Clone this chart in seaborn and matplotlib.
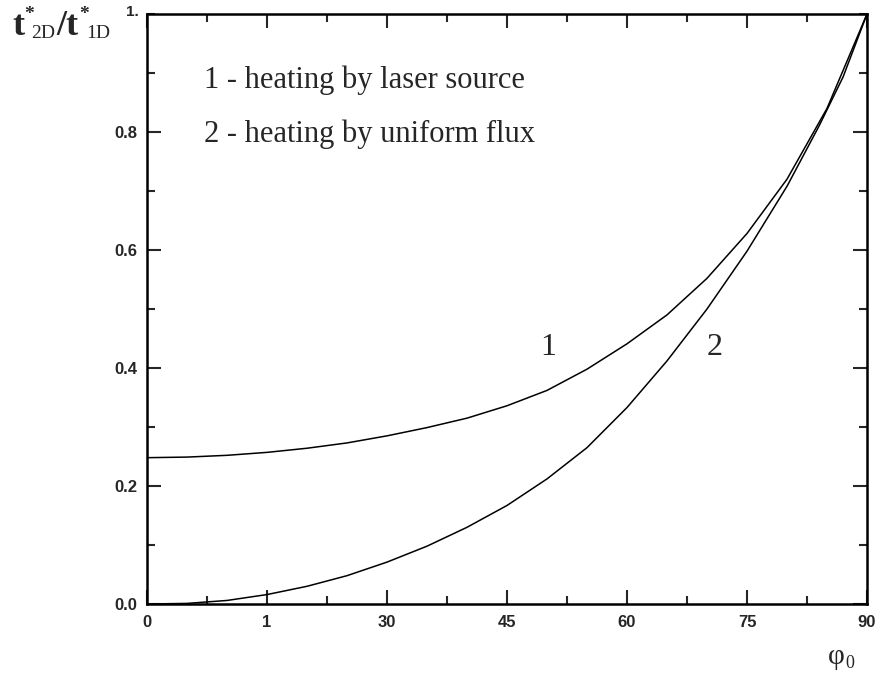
import matplotlib
matplotlib.use("Agg")
import matplotlib.pyplot as plt
import seaborn as sns
import pandas as pd
from matplotlib.ticker import MultipleLocator, FixedLocator

# Data
phi_1 = [0, 5, 10, 15, 20, 25, 30, 35, 40, 45, 50, 55, 60, 65, 70, 75, 80, 85, 90]
ratio_1 = [0.248, 0.249, 0.252, 0.257, 0.264, 0.273, 0.285, 0.299, 0.315, 0.336,
           0.362, 0.398, 0.441, 0.490, 0.552, 0.628, 0.720, 0.840, 1.000]
phi_2 = [0, 5, 10, 15, 20, 25, 30, 35, 40, 45, 50, 55, 60, 65, 70, 75, 80, 84, 87, 90]
ratio_2 = [0.0, 0.001, 0.006, 0.016, 0.030, 0.048, 0.071, 0.098, 0.130, 0.167,
           0.212, 0.265, 0.333, 0.412, 0.500, 0.598, 0.708, 0.810, 0.893, 1.000]
x_ticks = [0, 15, 30, 45, 60, 75, 90]
x_tick_labels = ["0", "1", "30", "45", "60", "75", "90"]
y_ticks = [0.0, 0.2, 0.4, 0.6, 0.8]
y_tick_labels = ["0.0", "0.2", "0.4", "0.6", "0.8"]
legend_lines = ["1 - heating by laser source", "2 - heating by uniform flux"]
curve_labels = ["1", "2"]

df = pd.concat([
    pd.DataFrame({"phi": phi_1, "ratio": ratio_1, "curve": "1"}),
    pd.DataFrame({"phi": phi_2, "ratio": ratio_2, "curve": "2"}),
])

sns.set_theme(style="ticks")

W, H = 880, 677
fig = plt.figure(figsize=(W / 100, H / 100), dpi=100)
ax = fig.add_axes([147 / W, (H - 604) / H, 720 / W, 590 / H])


def px(x, y):
    return x / W, 1 - y / H


sns.lineplot(data=df, x="phi", y="ratio", units="curve", estimator=None,
             color="black", linewidth=1.1, ax=ax, legend=False)

ax.set_xlim(0, 90)
ax.set_ylim(0, 1.0)
ax.xaxis.set_major_locator(FixedLocator(x_ticks))
ax.set_xticklabels(x_tick_labels)
ax.xaxis.set_minor_locator(MultipleLocator(7.5))
ax.yaxis.set_major_locator(FixedLocator(y_ticks))
ax.set_yticklabels(y_tick_labels)
ax.yaxis.set_minor_locator(MultipleLocator(0.1))
ax.tick_params(which="both", direction="in", top=True, right=True, width=1.5)
ax.tick_params(which="major", length=10)
ax.tick_params(which="minor", length=6)
ax.tick_params(axis="x", pad=8)
ax.tick_params(axis="y", pad=7)
for lab in ax.get_xticklabels() + ax.get_yticklabels():
    lab.set_fontfamily("Liberation Sans")
    lab.set_fontweight("bold")
    lab.set_fontsize(12)
for sp in ax.spines.values():
    sp.set_linewidth(1.8)
    sp.set_color("black")
ax.set_xlabel("")
ax.set_ylabel("")

serif = "Liberation Serif"
# legend-like annotation
fig.text(*px(204, 88), legend_lines[0], fontsize=22, family=serif, va="baseline", ha="left")
fig.text(*px(204, 142), legend_lines[1], fontsize=22, family=serif, va="baseline", ha="left")
# curve labels
ax.text(50.1, 0.435, curve_labels[0], fontsize=23, family=serif, ha="center", va="center")
ax.text(70.9, 0.435, curve_labels[1], fontsize=23, family=serif, ha="center", va="center")

# y-axis title t*_2D / t*_1D
fig.text(*px(12, 35), "t", fontsize=26, family=serif, fontweight="bold", va="baseline", ha="left")
fig.text(*px(24, 19), "*", fontsize=14, family=serif, fontweight="bold", va="baseline", ha="left")
fig.text(*px(31, 38), "2D", fontsize=14, family=serif, va="baseline", ha="left")
fig.text(*px(56, 35), "/t", fontsize=26, family=serif, fontweight="bold", va="baseline", ha="left")
fig.text(*px(79, 19), "*", fontsize=14, family=serif, fontweight="bold", va="baseline", ha="left")
fig.text(*px(86, 38), "1D", fontsize=14, family=serif, va="baseline", ha="left")
# top y tick label
fig.text(*px(132, 12), "1.", fontsize=11, fontweight="bold", family="Liberation Sans",
         va="center", ha="center")
# x-axis title phi_0
fig.text(*px(828, 664), "φ", fontsize=21, family=serif, va="baseline", ha="left")
fig.text(*px(845, 668), "0", fontsize=13, family=serif, va="baseline", ha="left")

fig.savefig("out.png", dpi=100, facecolor="white")
